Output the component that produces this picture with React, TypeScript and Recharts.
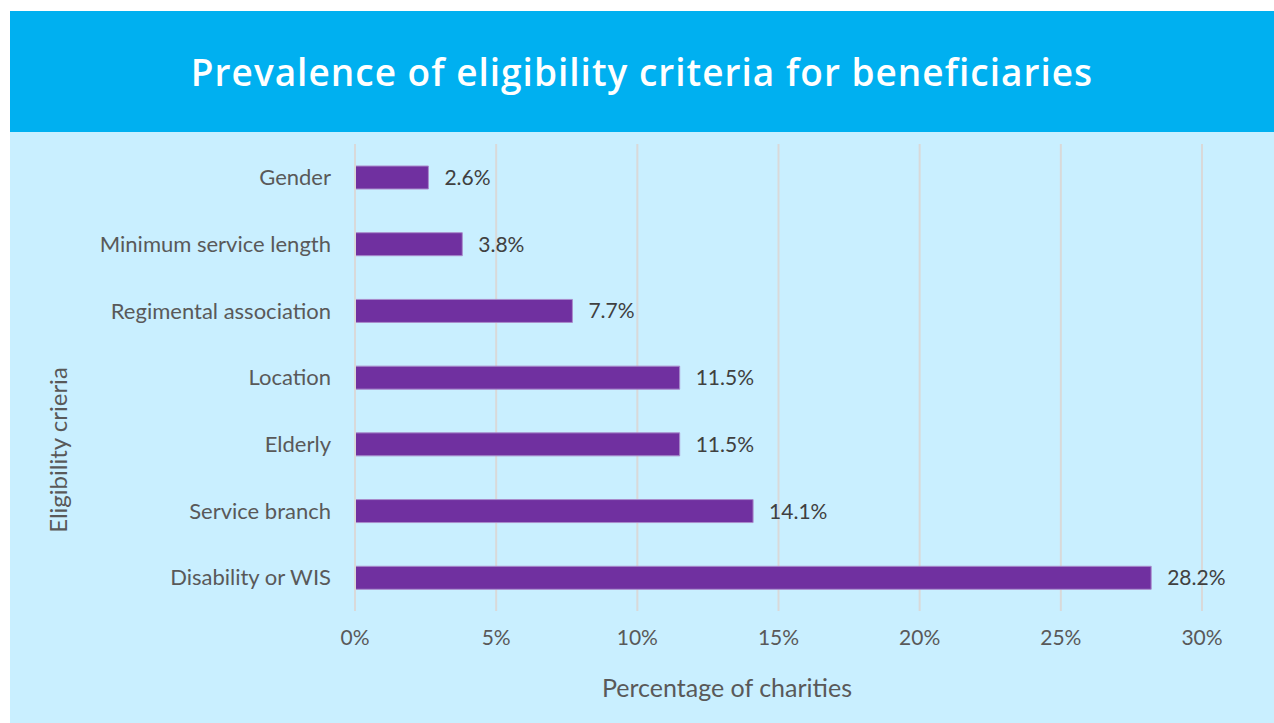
import React from 'react';
import { BarChart, Bar, XAxis, YAxis, CartesianGrid, LabelList, Label } from 'recharts';

const categories = [
  'Gender',
  'Minimum service length',
  'Regimental association',
  'Location',
  'Elderly ',
  'Service branch',
  'Disability or WIS',
];
const values = [2.6, 3.8, 7.7, 11.5, 11.5, 14.1, 28.2];
const xTicks = [0, 5, 10, 15, 20, 25, 30];

const TITLE = 'Prevalence of eligibility criteria for beneficiaries';
const X_TITLE = 'Percentage of charities';
const Y_TITLE = 'Eligibility crieria';

const data = categories.map((name, i) => ({ name, value: values[i] }));

const FONT = 'Lato, "Open Sans", sans-serif';

export default function App() {
  return (
    <div style={{ position: 'absolute', left: 0, top: 0, width: 1274, height: 723, background: '#fff', fontFamily: FONT }}>
      <div style={{ position: 'absolute', left: 10, top: 11, width: 1264, height: 121, background: '#00B0F0' }} />
      <div style={{ position: 'absolute', left: 10, top: 132, width: 1264, height: 591, background: '#C9EFFF' }} />
      <div
        style={{
          position: 'absolute', left: 10, top: 11, width: 1264, height: 121,
          display: 'flex', alignItems: 'center', justifyContent: 'center',
          color: '#fff', fontSize: 37, fontFamily: '"Open Sans", sans-serif', fontWeight: 600, letterSpacing: 1,
        }}
      >
        {TITLE}
      </div>
      <div style={{ position: 'absolute', left: 0, top: 0 }}>
        <BarChart
          width={1274}
          height={723}
          data={data}
          layout="vertical"
          margin={{ top: 144, right: 72, bottom: 72, left: 0 }}
          barCategoryGap={0}
        >
          <CartesianGrid horizontal={false} stroke="#D9D9D9" strokeWidth={2} />
          <XAxis
            type="number"
            domain={[0, 30]}
            ticks={xTicks}
            tickFormatter={(v) => `${v}%`}
            axisLine={false}
            tickLine={false}
            tickSize={0}
            tickMargin={19}
            height={40}
            tick={{ fill: '#595959', fontSize: 21, fontFamily: FONT }}
          >
            <Label
              content={({ viewBox }: any) => (
                <text x={727} y={viewBox.y + 80} textAnchor="middle" dominantBaseline="middle" fill="#595959" fontSize={25} fontFamily={FONT}>
                  {X_TITLE}
                </text>
              )}
            />
          </XAxis>
          <YAxis
            type="category"
            dataKey="name"
            width={355}
            axisLine={{ stroke: '#D9D9D9', strokeWidth: 2 }}
            tickLine={false}
            tickSize={0}
            tickMargin={24}
            tick={{ fill: '#595959', fontSize: 22, fontFamily: FONT }}
          >
            <Label
              content={() => (
                <text x={61} y={450} transform="rotate(-90 61 450)" textAnchor="middle" dominantBaseline="middle" fill="#595959" fontSize={24} fontFamily={FONT}>
                  {Y_TITLE}
                </text>
              )}
            />
          </YAxis>
          <Bar dataKey="value" fill="#7030A0" stroke="#A98BCB" strokeWidth={1} barSize={23} isAnimationActive={false}>
            <LabelList
              dataKey="value"
              position="right"
              offset={16}
              formatter={(v: any) => `${Number(v).toFixed(1)}%`}
              style={{ fill: '#404040', fontSize: 21, fontFamily: FONT }}
            />
          </Bar>
        </BarChart>
      </div>
    </div>
  );
}
